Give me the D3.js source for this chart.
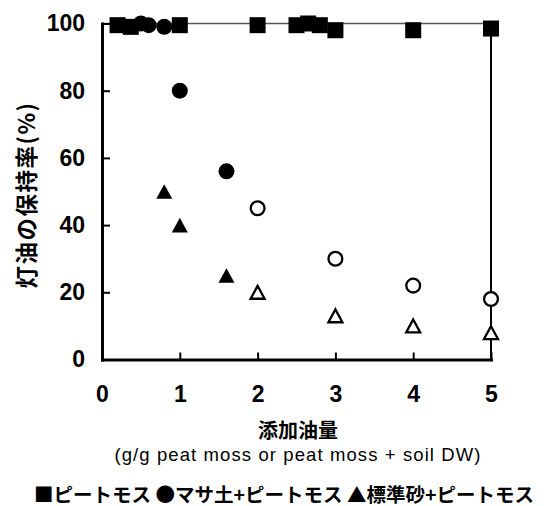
<!DOCTYPE html>
<html>
<head>
<meta charset="utf-8">
<script src="https://cdn.jsdelivr.net/npm/d3@7.9.0/dist/d3.min.js"></script>
<style>
  body { margin: 0; background: #fff; }
  svg { display: block; }
  .num { font-family: "Liberation Sans", Arial, sans-serif; font-weight: bold; font-size: 23px; fill: #000; }
  .jp { font-family: "Noto Sans CJK JP", sans-serif; font-weight: bold; fill: #000; }
</style>
</head>
<body>
<svg id="chart" width="550" height="506"></svg>
<script>
// ピートモス (squares)
const peatX = [0.2, 0.37, 1.0, 2.0, 2.5, 2.65, 2.8, 3.0, 4.0, 5.0];
const peatY = [99.5, 99, 99.5, 99.5, 99.5, 100, 99.5, 98, 98, 98.5];

// マサ土+ピートモス (circles) - first five filled
const masaX = [0.5, 0.6, 0.8, 1.0, 1.6, 2, 3, 4, 5];
const masaY = [100, 99.5, 99, 80, 56, 45, 30, 22, 18];
const masaFilled = [true, true, true, true, true, false, false, false, false];

// 標準砂+ピートモス (triangles) - first three filled
const sandX = [0.8, 1.0, 1.6, 2, 3, 4, 5];
const sandY = [50, 40, 25, 20, 13, 10, 8];
const sandFilled = [true, true, true, false, false, false, false];

const xTicks = [0, 1, 2, 3, 4, 5];
const yTicks = [0, 20, 40, 60, 80, 100];

const svg = d3.select("#chart");

let x = d3.scaleLinear().domain([0, 5]).range([102, 491]);
let y = d3.scaleLinear().domain([0, 100]).range([359.5, 23.5]);

// top & right frame
svg.append("line")
    .attr("x1", x(0)).attr("x2", x(5))
    .attr("y1", y(100)).attr("y2", y(100))
    .attr("stroke", "#555").attr("stroke-width", 1.5);
svg.append("line")
    .attr("x1", x(5)).attr("x2", x(5))
    .attr("y1", y(100)).attr("y2", y(0))
    .attr("stroke", "#000").attr("stroke-width", 2);

// axes, ticks pointing inward
let yAxis = svg.append("g")
    .attr("transform", `translate(${x(0)},0)`)
    .call(d3.axisLeft(y).tickValues(yTicks).tickSize(-8).tickSizeOuter(0).tickPadding(17));
let xAxis = svg.append("g")
    .attr("transform", `translate(0,${y(0)})`)
    .call(d3.axisBottom(x).tickValues(xTicks).tickFormat(d3.format("d"))
        .tickSize(-7).tickSizeOuter(0).tickPadding(26));

[xAxis, yAxis].forEach(g => {
    g.select(".domain").attr("stroke", "#000").attr("stroke-width", 3).attr("stroke-linecap", "square");
    g.selectAll(".tick line").attr("stroke", "#000").attr("stroke-width", 2);
    g.selectAll(".tick text").attr("class", "num").attr("font-size", null).attr("font-family", null);
});

// triangle centred on its bounding box
const triBox = {
    draw(ctx, size) {
        const w = Math.sqrt(size), h = w * 0.92;
        ctx.moveTo(0, -h / 2);
        ctx.lineTo(w / 2, h / 2);
        ctx.lineTo(-w / 2, h / 2);
        ctx.closePath();
    }
};

const marks = svg.append("g");

peatX.forEach((d, i) => {
    marks.append("path")
        .attr("d", d3.symbol(d3.symbolSquare, 256)())
        .attr("transform", `translate(${x(d)},${y(peatY[i])})`)
        .attr("fill", "#000");
});

masaX.forEach((d, i) => {
    let filled = masaFilled[i];
    marks.append("path")
        .attr("d", d3.symbol(d3.symbolCircle, filled ? 201 : 150)())
        .attr("transform", `translate(${x(d)},${y(masaY[i])})`)
        .attr("fill", filled ? "#000" : "#fff")
        .attr("stroke", "#000")
        .attr("stroke-width", filled ? 0 : 2.3);
});

sandX.forEach((d, i) => {
    let filled = sandFilled[i];
    marks.append("path")
        .attr("d", d3.symbol(triBox, filled ? 256 : 196)())
        .attr("transform", `translate(${x(d)},${y(sandY[i])})`)
        .attr("fill", filled ? "#000" : "#fff")
        .attr("stroke", "#000")
        .attr("stroke-width", filled ? 0 : 2.3)
        .attr("stroke-linejoin", "miter");
});

// titles
svg.append("text")
    .attr("class", "jp")
    .attr("transform", "translate(25,195) rotate(-90)")
    .attr("text-anchor", "middle")
    .attr("dominant-baseline", "central")
    .attr("font-size", 22.5)
    .attr("letter-spacing", 1.5)
    .text("灯油の保持率(%)");

svg.append("text")
    .attr("class", "jp")
    .attr("x", 298).attr("y", 429)
    .attr("text-anchor", "middle")
    .attr("dominant-baseline", "central")
    .attr("font-size", 20)
    .text("添加油量");

svg.append("text")
    .attr("x", 298).attr("y", 461)
    .attr("text-anchor", "middle")
    .attr("font-family", "'Liberation Sans', Arial, sans-serif")
    .attr("font-size", 18.5)
    .attr("font-weight", 500)
    .attr("letter-spacing", 1.1)
    .text("(g/g peat moss or peat moss + soil DW)");

svg.append("text")
    .attr("class", "jp")
    .attr("x", 284).attr("y", 493)
    .attr("text-anchor", "middle")
    .attr("dominant-baseline", "central")
    .attr("font-size", 19.5)
    .text("■ピートモス ●マサ土+ピートモス ▲標準砂+ピートモス");
</script>
</body>
</html>
